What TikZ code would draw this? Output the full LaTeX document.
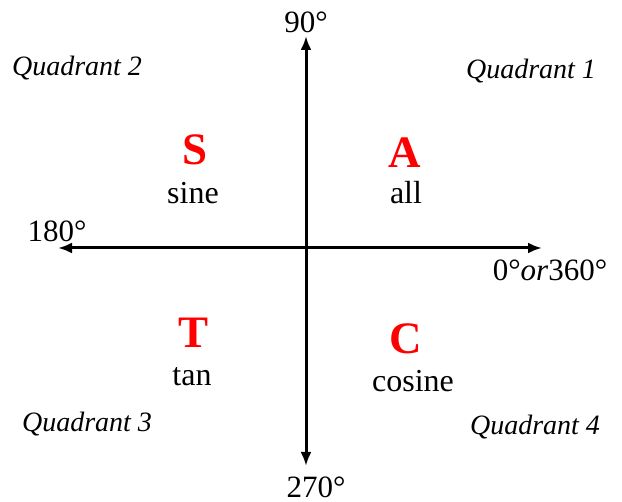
\documentclass[tikz,border=0pt]{standalone}
\usepackage{fontspec}
\setmainfont{Liberation Serif}
\definecolor{signred}{RGB}{255,0,0}
\usetikzlibrary{arrows.meta}

\begin{document}
\begin{tikzpicture}[x=1pt, y=-1pt,
    axis/.style={line width=3pt, {Latex[length=14pt,width=11pt]}-{Latex[length=14pt,width=11pt]}},
    angle/.style={font=\fontsize{31}{31}\selectfont, inner sep=0pt},
    quad/.style={font=\fontsize{28}{28}\selectfont\itshape, inner sep=0pt},
    sign/.style={font=\fontsize{45}{45}\selectfont\bfseries, text=signred, inner sep=0pt},
    func/.style={font=\fontsize{32}{32}\selectfont, inner sep=0pt},
  ]
    \useasboundingbox (0,0) rectangle (622,502);
    % axes
    \coordinate (west) at (58,248);
    \coordinate (east) at (542,248);
    \coordinate (north) at (306,36);
    \coordinate (south) at (306,466);
    \draw[axis] (west) -- (east);
    \draw[axis] (north) -- (south);
    % angles
    \node[angle] (a90) at (306,22) {90°};
    \node[angle] (a180) at (57,231) {180°};
    \node[angle] (a0) at (550,270) {0°\textit{or}360°};
    \node[angle] (a270) at (316,487) {270°};
    % quadrant names
    \node[quad] (q2) at (77,68) {Quadrant 2};
    \node[quad] (q1) at (531,71) {Quadrant 1};
    \node[quad] (q3) at (87,424) {Quadrant 3};
    \node[quad] (q4) at (535,427) {Quadrant 4};
    % signs
    \node[sign] (s) at (195,150) {S};
    \node[func] (sine) at (193,193) {sine};
    \node[sign] (a) at (405,153) {A};
    \node[func] (all) at (406,193) {all};
    \node[sign] (t) at (194,333) {T};
    \node[func] (tan) at (192,377) {tan};
    \node[sign] (c) at (406,339) {C};
    \node[func] (cosine) at (413,381) {cosine};
  \end{tikzpicture}
\end{document}
